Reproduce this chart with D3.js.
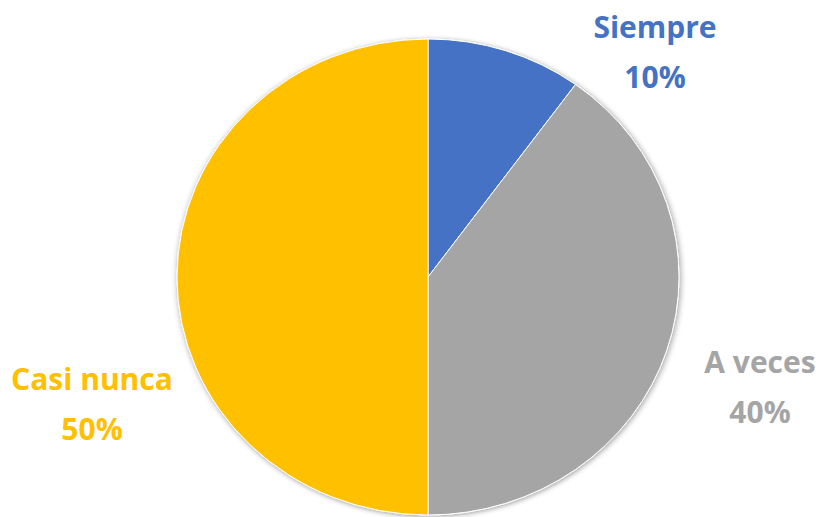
<!DOCTYPE html>
<html><head><meta charset="utf-8">
<script src="https://cdn.jsdelivr.net/npm/d3@7"></script>
<style>html,body{margin:0;padding:0;background:#fff;}svg{display:block;}</style>
</head><body>
<svg id="c" width="824" height="517"></svg>
<script>
const categories = ["Siempre", "A veces", "Casi nunca"];
const values = [10, 40, 50];
const percentLabels = ["10%", "40%", "50%"];
const colors = ["#4472C4", "#A5A5A5", "#FFC000"];

const W = 824, H = 517;
const cx = 428, cy = 277, rx = 251, ry = 238;
const svg = d3.select("#c");

const defs = svg.append("defs");
const f = defs.append("filter").attr("id","sh").attr("x","-10%").attr("y","-10%").attr("width","120%").attr("height","120%");
f.append("feGaussianBlur").attr("in","SourceAlpha").attr("stdDeviation",3).attr("result","b");
f.append("feOffset").attr("in","b").attr("dx",1).attr("dy",1).attr("result","o");
f.append("feComponentTransfer").attr("in","o").attr("result","o2").append("feFuncA").attr("type","linear").attr("slope",0.4);
const m = f.append("feMerge");
m.append("feMergeNode").attr("in","o2");
m.append("feMergeNode").attr("in","SourceGraphic");

const pie = d3.pie().sort(null).value(d => d)(values);
const arc = d3.arc().innerRadius(0).outerRadius(rx);

const g = svg.append("g")
  .attr("transform", `translate(${cx},${cy}) scale(1,${ry/rx})`)
  .attr("filter","url(#sh)");
g.selectAll("path").data(pie).join("path")
  .attr("d", arc)
  .attr("fill", (d,i) => colors[i])
  .attr("stroke", "#fff")
  .attr("stroke-width", 1)
  .attr("vector-effect","non-scaling-stroke");

const labelPos = [[655, 38], [760, 373], [92, 390]];
const lab = svg.append("g").attr("font-family","'Open Sans', sans-serif").attr("font-weight","bold").attr("font-size","30px").attr("text-anchor","middle");
categories.forEach((c,i) => {
  const t = lab.append("text").attr("fill", colors[i]).attr("x", labelPos[i][0]).attr("y", labelPos[i][1]);
  t.append("tspan").attr("x", labelPos[i][0]).text(c);
  t.append("tspan").attr("x", labelPos[i][0]).attr("dy", 50).text(percentLabels[i]);
});
</script>
</body></html>
